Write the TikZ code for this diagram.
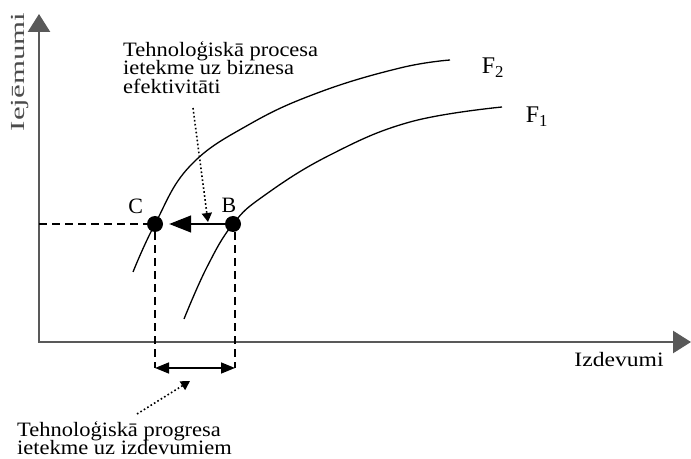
\documentclass[tikz,border=0pt]{standalone}
\usepackage{fontspec}
\setmainfont{Liberation Serif}
\usetikzlibrary{arrows.meta,positioning,calc}

\begin{document}
\begin{tikzpicture}[
    x=1bp,y=-1bp,
    axis/.style={draw=black!65,line width=2.6bp,{Triangle[length=18bp,width=22bp]}-{Triangle[length=18bp,width=22bp]}},
    curve/.style={line width=1.3bp},
    guide/.style={line width=1.3bp,dash pattern=on 8bp off 5bp},
    dot/.style={circle,fill=black,inner sep=0pt,minimum size=16bp},
    movearrow/.style={line width=1.4bp,-{Triangle[length=22bp,width=17bp]},shorten >=6bp},
    span/.style={line width=1.5bp,{Triangle[length=14bp,width=11bp]}-{Triangle[length=14bp,width=11bp]}},
    hint/.style={line width=1.6bp,dash pattern=on 1.6bp off 2.4bp,-{Triangle[length=9bp,width=10bp]}},
    note/.style={font=\fontsize{20.5}{19}\selectfont,align=left,inner sep=0pt,xscale=1.1,transform shape},
    lbl/.style={font=\fontsize{22}{24}\selectfont,inner sep=0pt},
    flbl/.style={font=\fontsize{24}{26}\selectfont,inner sep=0pt}
]
    \useasboundingbox (0,0) rectangle (691,459);

    % axes
    \coordinate (O) at (39,342);
    \coordinate (yTop) at (39,14);
    \coordinate (xEnd) at (691,342);
    \draw[axis] (yTop) -- (O) -- (xEnd);
    \node[font=\fontsize{20}{22}\selectfont,text=black!70,inner sep=0pt,rotate=90,xscale=1.55,transform shape] (yLbl) at (20,72) {Iejēmumi};
    \node[note,xscale=1.05] (xLbl) at (619,360) {Izdevumi};

    % points
    \node[dot] (C) at (155,224) {};
    \node[dot] (B) at (233,224) {};
    \node[lbl,above left=4bp and 6bp of C] (cLbl) {C};
    \node[lbl,above=3bp of B,xshift=-4bp] (bLbl) {B};

    % curves
    \draw[curve] plot[smooth,tension=0.7] coordinates {(133,272) (155,224) (190,166) (250,124) (320,92) (400,68) (450,60)};
    \draw[curve] plot[smooth,tension=0.7] coordinates {(184,319) (207,267) (233,224) (265,195) (330,155) (410,122) (502,107)};
    \node[flbl] (f2) at (493,68) {F\textsubscript{2}};
    \node[flbl] (f1) at (537,117) {F\textsubscript{1}};

    % guides
    \coordinate (yC) at (39,224);
    \coordinate (cBot) at (155,368);
    \coordinate (bBot) at (235,368);
    \draw[guide] (yC) -- (C);
    \draw[guide] (C) -- (cBot);
    \draw[guide] (B.south -| bBot) -- (bBot);
    \draw[movearrow] (B) -- (C);
    \draw[span] (cBot) -- (bBot);

    % notes
    \node[note,anchor=north west] (procTxt) at (123,41) {Tehnoloģiskā procesa\\ietekme uz biznesa\\efektivitāti};
    \node[note,anchor=north west] (progTxt) at (17,421) {Tehnoloģiskā progresa\\ietekme uz izdevumiem};
    \coordinate (procFrom) at (193,108);
    \coordinate (procTo) at (208,222);
    \coordinate (progFrom) at (137,414);
    \coordinate (progTo) at (190,381);
    \draw[hint] (procFrom) -- (procTo);
    \draw[hint] (progFrom) -- (progTo);
\end{tikzpicture}
\end{document}
